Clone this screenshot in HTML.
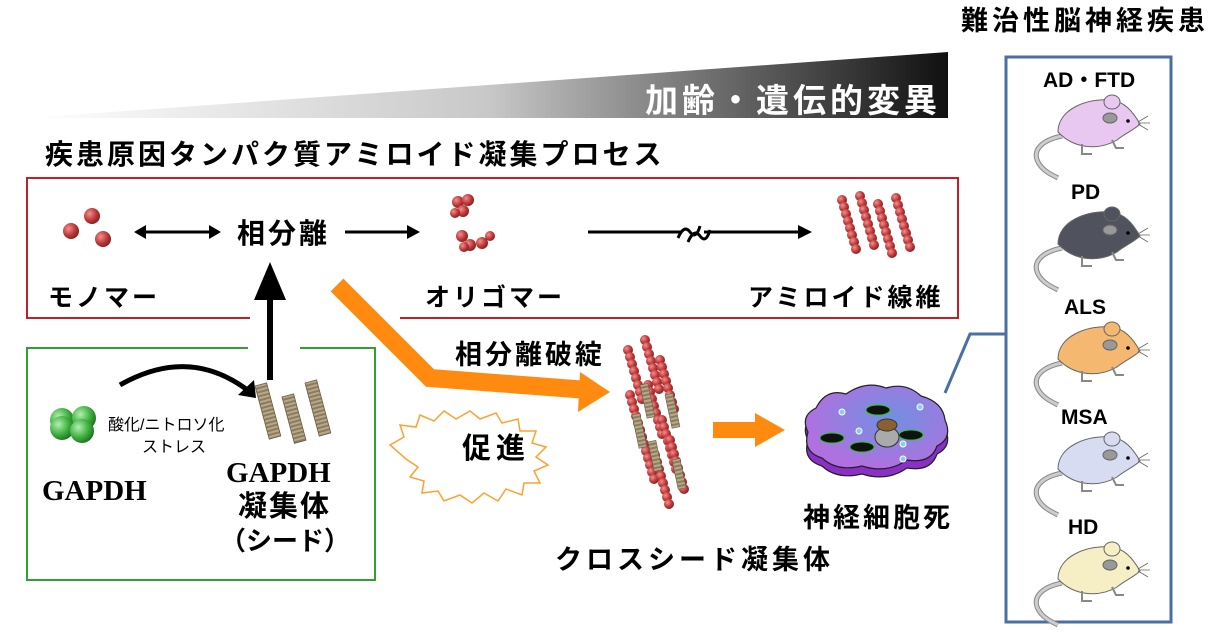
<!DOCTYPE html>
<html><head><meta charset="utf-8"><style>
html,body{margin:0;padding:0;background:#fff;}
svg{display:block;}
text{font-family:"Liberation Sans","Noto Sans CJK JP",sans-serif;font-weight:bold;fill:#000;}
</style></head><body>
<svg width="1222" height="632" viewBox="0 0 1222 632" xmlns="http://www.w3.org/2000/svg">
<defs>
<linearGradient id="tri" x1="0" x2="1" y1="0" y2="0">
<stop offset="0" stop-color="#ffffff"/><stop offset="0.5" stop-color="#c8c8c8"/><stop offset="1" stop-color="#101010"/></linearGradient>
<radialGradient id="rb" cx="0.35" cy="0.35" r="0.7"><stop offset="0" stop-color="#f09090"/><stop offset="0.6" stop-color="#c03838"/><stop offset="1" stop-color="#802020"/></radialGradient>
<radialGradient id="gb" cx="0.35" cy="0.35" r="0.7"><stop offset="0" stop-color="#b0f0b0"/><stop offset="0.6" stop-color="#40b040"/><stop offset="1" stop-color="#207020"/></radialGradient>
<radialGradient id="cell" cx="0.6" cy="0.4" r="0.6"><stop offset="0" stop-color="#7090e0"/><stop offset="1" stop-color="#b070e0"/></radialGradient>
<pattern id="coil" width="8" height="4" patternUnits="userSpaceOnUse"><rect width="8" height="4" fill="#8a7c60"/><rect width="8" height="2" fill="#b8a888"/></pattern>
<g id="fib"><circle cx="0" cy="0" r="5"/><circle cx="2" cy="7" r="5"/><circle cx="4" cy="14" r="5"/><circle cx="6" cy="21" r="5"/><circle cx="8" cy="28" r="5"/><circle cx="10" cy="35" r="5"/><circle cx="12" cy="42" r="5"/><circle cx="14" cy="49" r="5"/></g>
<g id="mouse">
<path d="M1062,136 C1042,140 1032,150 1038,162 C1042,170 1050,174 1058,178" fill="none" stroke="#888" stroke-width="5"/>
<path d="M1062,136 C1042,140 1032,150 1038,162 C1042,170 1050,174 1058,178" fill="none" stroke="#ccc" stroke-width="3"/>
<path d="M1058,132 C1058,110 1085,98 1112,100 C1124,102 1132,110 1140,124 C1134,130 1124,134 1117,140 C1100,150 1075,150 1058,132 Z" stroke="#666" stroke-width="1"/>
<ellipse cx="1112" cy="102" rx="8" ry="7" stroke="#666" stroke-width="1"/>
<ellipse cx="1110" cy="118" rx="7" ry="5" fill="#999" stroke="#666"/>
<circle cx="1128" cy="121" r="1.8" fill="#000"/>
<path d="M1138,122 l10,-6 M1138,123 l12,0 M1138,124 l10,6" stroke="#666" stroke-width="0.8"/>
<path d="M1082,144 l0,10 l10,0 M1112,140 l4,8 l8,0" fill="none" stroke="#888" stroke-width="2"/>
</g>
</defs>

<polygon points="28,118 948,52 948,118" fill="url(#tri)"/>
<text x="645" y="112" font-size="33" letter-spacing="4" style="fill:#fff">加齢・遺伝的変異</text>

<text x="45" y="164" font-size="28" letter-spacing="3">疾患原因タンパク質アミロイド凝集プロセス</text>
<text x="961" y="30" font-size="27" letter-spacing="4">難治性脳神経疾患</text>

<path d="M250,318 L27,318 L27,178 L958,178 L958,318 L400,318" fill="none" stroke="#c0202a" stroke-width="2"/>
<path d="M248,348 L27,348 L27,580 L375,580 L375,348 L300,348" fill="none" stroke="#30a030" stroke-width="2"/>

<circle cx="71" cy="231" r="8" fill="url(#rb)"/>
<circle cx="92" cy="216" r="8" fill="url(#rb)"/>
<circle cx="103" cy="239" r="8" fill="url(#rb)"/>
<line x1="142" y1="232" x2="212" y2="232" stroke="#000" stroke-width="3"/>
<polygon points="134,232 146,225 146,239"/><polygon points="221,232 209,225 209,239"/>
<text x="237" y="243" font-size="28" letter-spacing="3">相分離</text>
<line x1="345" y1="232" x2="410" y2="232" stroke="#000" stroke-width="3"/>
<polygon points="420,232 407,225 407,239"/>
<g fill="url(#rb)">
<circle cx="458" cy="202" r="6"/><circle cx="468" cy="200" r="6"/><circle cx="463" cy="211" r="6"/><circle cx="455" cy="213" r="5"/>
<circle cx="462" cy="236" r="6"/><circle cx="470" cy="245" r="6"/><circle cx="482" cy="243" r="6"/><circle cx="490" cy="236" r="5"/><circle cx="464" cy="247" r="5"/>
</g>
<path d="M588,232 L682,232 M704,232 L800,232" stroke="#000" stroke-width="3"/>
<path d="M678,238 q6,-14 12,-6 q6,8 10,-6 M688,242 q6,-14 12,-6 q6,8 10,-6" fill="none" stroke="#000" stroke-width="3"/>
<polygon points="812,232 798,225 798,239"/>
<g fill="url(#rb)">
<use href="#fib" x="842" y="200"/><use href="#fib" x="860" y="196"/><use href="#fib" x="878" y="204"/><use href="#fib" x="896" y="198"/>
</g>
<text x="48" y="306" font-size="25" letter-spacing="3">モノマー</text>
<text x="425" y="306" font-size="25" letter-spacing="3">オリゴマー</text>
<text x="748" y="306" font-size="25" letter-spacing="3">アミロイド線維</text>

<polyline points="337,285 430,378 588,390" fill="none" stroke="#ff8a10" stroke-width="18" stroke-linejoin="miter"/>
<polygon points="610,392 580,372 578,412" fill="#ff8a10"/>
<text x="455" y="364" font-size="27" letter-spacing="3">相分離破綻</text>

<line x1="270" y1="380" x2="270" y2="298" stroke="#000" stroke-width="6"/>
<polygon points="270,262 254,300 286,300"/>

<g fill="url(#gb)"><circle cx="62" cy="420" r="12"/><circle cx="84" cy="418" r="12"/><circle cx="62" cy="428" r="12"/><circle cx="82" cy="431" r="12"/></g>
<path d="M120,385 Q190,345 250,392" fill="none" stroke="#000" stroke-width="5"/>
<polygon points="256,398 238,395 254,380"/>
<g stroke="#6a5c40" stroke-width="0.8">
<rect x="0" y="0" width="12" height="55" fill="url(#coil)" transform="translate(255,386) rotate(-15)"/>
<rect x="0" y="0" width="12" height="48" fill="url(#coil)" transform="translate(282,397) rotate(-15)"/>
<rect x="0" y="0" width="12" height="55" fill="url(#coil)" transform="translate(305,383) rotate(-15)"/>
</g>
<text x="108" y="430" font-size="16" style="font-weight:normal">酸化/ニトロソ化</text>
<text x="142" y="452" font-size="16" style="font-weight:normal">ストレス</text>
<text x="42" y="500" font-size="29" style="font-family:'Liberation Serif',serif">GAPDH</text>
<text x="226" y="482" font-size="29" style="font-family:'Liberation Serif',serif">GAPDH</text>
<text x="238" y="516" font-size="29" letter-spacing="2">凝集体</text>
<text x="220" y="550" font-size="26">（シード）</text>

<path d="M390,445 l14,-8 -4,-12 16,2 4,-12 14,6 10,-10 12,8 14,-8 10,8 16,-6 6,10 16,-4 2,12 16,0 -4,12 14,4 -10,10 12,8 -14,6 6,12 -16,0 -2,12 -16,-6 -8,12 -14,-8 -12,10 -12,-8 -16,6 -6,-10 -16,2 2,-12 -14,-4 8,-10 -12,-8 Z" fill="#fff" stroke="#ffa030" stroke-width="1.5"/>
<text x="462" y="458" font-size="29" letter-spacing="5">促進</text>

<g fill="url(#rb)">
<use href="#fib" x="628" y="350"/><use href="#fib" x="630" y="395"/><use href="#fib" x="645" y="340"/><use href="#fib" x="648" y="385"/><use href="#fib" x="660" y="360"/><use href="#fib" x="662" y="420"/><use href="#fib" x="640" y="430"/><use href="#fib" x="655" y="455"/><use href="#fib" x="670" y="440"/>
</g>
<g stroke="#6a5c40" stroke-width="0.6">
<rect width="8" height="34" fill="url(#coil)" transform="translate(640,385) rotate(-12)"/>
<rect width="8" height="34" fill="url(#coil)" transform="translate(665,395) rotate(-12)"/>
<rect width="8" height="34" fill="url(#coil)" transform="translate(632,415) rotate(-12)"/>
<rect width="8" height="30" fill="url(#coil)" transform="translate(648,442) rotate(-12)"/>
<rect width="8" height="30" fill="url(#coil)" transform="translate(672,460) rotate(-12)"/>
</g>
<rect x="713" y="422" width="45" height="16" fill="#ff8a10"/>
<polygon points="785,430 755,413 755,447" fill="#ff8a10"/>

<path d="M808,432 q-8,-16 8,-24 q10,-20 30,-14 q20,-14 40,-6 q20,-6 35,8 q22,6 24,24 q8,18 -8,26 q-6,18 -30,14 q-20,14 -45,6 q-25,6 -40,-8 q-20,-6 -14,-26z" fill="#8a30c8" stroke="#222" stroke-width="1.2" transform="translate(0,8)"/>
<path d="M808,432 q-8,-16 8,-24 q10,-20 30,-14 q20,-14 40,-6 q20,-6 35,8 q22,6 24,24 q8,18 -8,26 q-6,18 -30,14 q-20,14 -45,6 q-25,6 -40,-8 q-20,-6 -14,-26z" fill="url(#cell)" stroke="#222" stroke-width="1.2"/>
<g fill="#111" stroke="#2c2" stroke-width="1"><ellipse cx="878" cy="410" rx="12" ry="5"/><ellipse cx="832" cy="438" rx="12" ry="5"/><ellipse cx="862" cy="447" rx="12" ry="5"/><ellipse cx="911" cy="435" rx="12" ry="5"/></g>
<ellipse cx="887" cy="437" rx="12" ry="10" fill="#aaa" stroke="#333"/>
<ellipse cx="887" cy="425" rx="10" ry="6" fill="#8a6030" stroke="#333"/>
<g fill="#8cf" stroke="#fff" stroke-width="1"><circle cx="842" cy="412" r="3"/><circle cx="920" cy="407" r="3"/><circle cx="859" cy="431" r="3"/><circle cx="903" cy="459" r="3"/><circle cx="903" cy="444" r="3"/></g>
<text x="803" y="527" font-size="27" letter-spacing="3">神経細胞死</text>
<text x="555" y="569" font-size="27" letter-spacing="4">クロスシード凝集体</text>

<polyline points="945,393 970,334 1006,334" fill="none" stroke="#4a6fa0" stroke-width="3"/>
<rect x="1006" y="57" width="165" height="565" fill="#fff" stroke="#4a6fa0" stroke-width="3"/>

<text x="1043" y="87" font-size="21">AD・FTD</text>
<text x="1071" y="199" font-size="21">PD</text>
<text x="1064" y="314" font-size="21">ALS</text>
<text x="1061" y="424" font-size="21">MSA</text>
<text x="1068" y="534" font-size="21">HD</text>
<use href="#mouse" fill="#e8c8f0"/>
<use href="#mouse" fill="#50525e" y="112"/>
<use href="#mouse" fill="#f4b870" y="227"/>
<use href="#mouse" fill="#d8dcf2" y="337"/>
<use href="#mouse" fill="#f6eec4" y="447"/>
</svg>
</body></html>
